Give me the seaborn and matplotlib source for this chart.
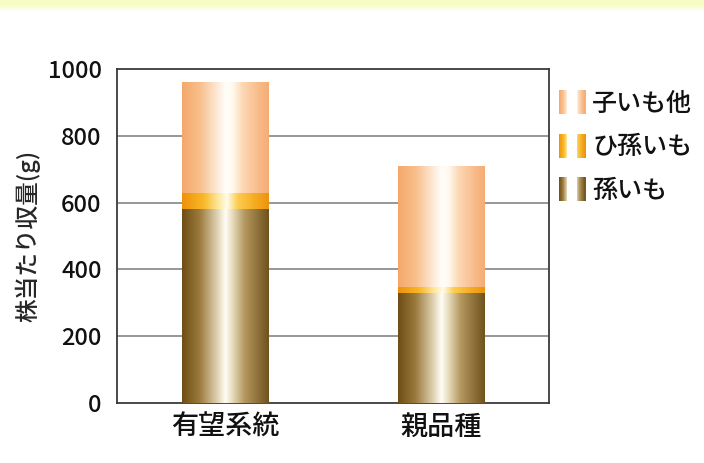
import numpy as np
import pandas as pd
import matplotlib
matplotlib.use("Agg")
import matplotlib.pyplot as plt
import seaborn as sns
from matplotlib.colors import LinearSegmentedColormap
from matplotlib.legend_handler import HandlerBase
from matplotlib.patches import Rectangle, Patch

# ---- data -------------------------------------------------------------
categories = ["有望系統", "親品種"]
mago = [580, 330]          # 孫いも
himago = [50, 18]          # ひ孫いも
ko_hoka = [330, 362]       # 子いも他
series_labels = ["子いも他", "ひ孫いも", "孫いも"]
y_ticks = [0, 200, 400, 600, 800, 1000]
y_label = "株当たり収量(g)"

# ---- style ------------------------------------------------------------
sns.set_theme(style="white")
plt.rcParams["font.family"] = ["Noto Sans CJK JP", "DejaVu Sans"]

def rgb(*c):
    return tuple(v / 255 for v in c)

# cylinder-like horizontal shading for each series
cmaps = {
    "子いも他": LinearSegmentedColormap.from_list("ko", [
        (0.0, rgb(244, 168, 108)), (0.2, rgb(248, 190, 138)),
        (0.4, rgb(253, 232, 212)), (0.5, rgb(255, 254, 250)),
        (0.58, rgb(255, 250, 240)), (0.7, rgb(252, 215, 180)),
        (0.88, rgb(248, 188, 138)), (1.0, rgb(245, 172, 115))]),
    "ひ孫いも": LinearSegmentedColormap.from_list("hi", [
        (0.0, rgb(238, 145, 10)), (0.25, rgb(248, 185, 40)),
        (0.42, rgb(254, 232, 160)), (0.52, rgb(255, 252, 235)),
        (0.64, rgb(252, 205, 80)), (0.85, rgb(245, 170, 30)),
        (1.0, rgb(236, 148, 15))]),
    "孫いも": LinearSegmentedColormap.from_list("ma", [
        (0.0, rgb(110, 78, 22)), (0.2, rgb(155, 122, 60)),
        (0.4, rgb(222, 208, 175)), (0.5, rgb(255, 253, 245)),
        (0.58, rgb(232, 220, 190)), (0.72, rgb(180, 152, 95)),
        (1.0, rgb(112, 82, 28))]),
}

fig = plt.figure(figsize=(7.04, 4.63), dpi=100, facecolor="white")

# pale yellow band along the top edge
band = fig.add_axes([0, 1 - 12 / 463, 1, 12 / 463], zorder=-5)
fade = np.linspace(0, 1, 12)
fade = np.clip((fade - 0.4) / 0.6, 0, 1)[:, None]
top_col = np.array(rgb(245, 253, 195))
band_img = top_col[None, None, :] * (1 - fade[:, :, None]) + fade[:, :, None]
band.imshow(np.repeat(band_img, 4, axis=1), aspect="auto", extent=(0, 1, 0, 1))
band.axis("off")

ax = fig.add_axes([117 / 704, 60 / 463, 432 / 704, 334 / 463])

# cumulative stack levels, tallest first so lower segments sit on top
levels = [
    ("子いも他", [m + h + k for m, h, k in zip(mago, himago, ko_hoka)]),
    ("ひ孫いも", [m + h for m, h in zip(mago, himago)]),
    ("孫いも", list(mago)),
]

grad = np.linspace(0, 1, 256)[None, :]
for i, (name, vals) in enumerate(levels):
    df = pd.DataFrame({"cat": categories, "val": vals})
    sns.barplot(data=df, x="cat", y="val", order=categories, width=0.4,
                color=cmaps[name](0.0), edgecolor="none", linewidth=0,
                errorbar=None, ax=ax, zorder=2 + i)
    for patch in ax.containers[-1]:
        x0, y0 = patch.get_x(), patch.get_y()
        w, h = patch.get_width(), patch.get_height()
        im = ax.imshow(grad, cmap=cmaps[name], aspect="auto",
                       extent=(x0, x0 + w, y0, y0 + h), zorder=2.5 + i,
                       interpolation="bilinear")
        im.set_clip_path(patch)

ax.set_xlim(-0.5, 1.5)
ax.set_ylim(0, 1000)
ax.set_yticks(y_ticks)
ax.set_yticklabels([str(t) for t in y_ticks])
ax.set_xlabel("")
ax.set_ylabel(y_label, fontsize=17, fontweight="medium", labelpad=0)
ax.yaxis.set_label_coords(-0.178, 0.5)

for y in y_ticks[1:-1]:
    ax.axhline(y, color="#7a7a7a", lw=1.1, zorder=1)

for s in ax.spines.values():
    s.set_visible(True)
    s.set_color("#3a3a3a")
    s.set_linewidth(1.3)

ax.tick_params(axis="y", length=0, pad=11, labelsize=17, labelcolor="#111111")
ax.tick_params(axis="x", length=0, pad=8, labelsize=19.5, labelcolor="#111111")
for lbl in ax.get_xticklabels() + ax.get_yticklabels():
    lbl.set_fontweight("medium")
ax.set_xticks([0.5], minor=True)
ax.tick_params(axis="x", which="minor", direction="in", length=3,
               color="#3a3a3a", width=1)
ax.grid(False)


class SplitGradientHandler(HandlerBase):
    """Legend key drawn as two shaded slivers of a cylinder."""

    def create_artists(self, legend, orig_handle, xdescent, ydescent,
                       width, height, fontsize, trans):
        cmap = cmaps[orig_handle.get_label()]
        piece = width * 0.3
        arts = []
        for left, (t0, t1) in ((-xdescent, (0.0, 0.42)),
                               (-xdescent + width - piece, (0.6, 1.0))):
            n = 8
            for j in range(n):
                t = t0 + (t1 - t0) * (j + 0.5) / n
                r = Rectangle((left + piece * j / n, -ydescent), piece / n + 0.3,
                              height, facecolor=cmap(t), edgecolor="none",
                              transform=trans)
                arts.append(r)
        return arts


handles = [Patch(label=lbl) for lbl in series_labels]
leg = ax.legend(handles=handles, labels=series_labels, loc="upper left",
                bbox_to_anchor=(1.0, 0.967), frameon=False,
                prop={"size": 18, "weight": "medium"},
                handlelength=1.05, handleheight=1.1, handletextpad=0.28,
                labelspacing=0.68, borderaxespad=0, borderpad=0.4,
                handler_map={Patch: SplitGradientHandler()})
for t in leg.get_texts():
    t.set_color("#111111")

fig.savefig("out.png", dpi=100, facecolor="white")
